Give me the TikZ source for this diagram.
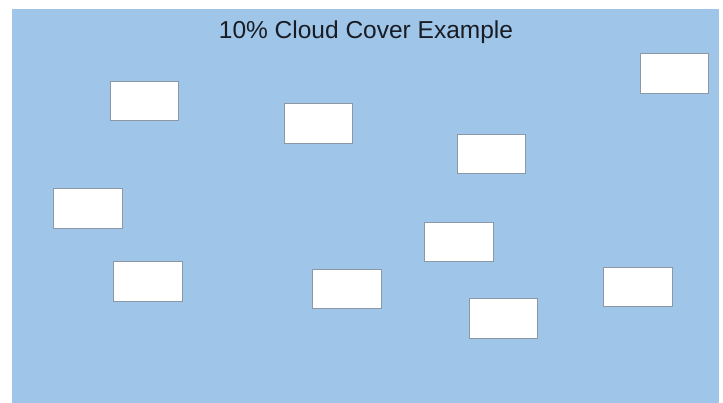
\documentclass[tikz,border=0pt]{standalone}
\usepackage{fontspec}
\setmainfont{Liberation Sans}
\definecolor{skyblue}{HTML}{9FC5E8}
\definecolor{cloudedge}{RGB}{140,152,166}
\definecolor{titleink}{RGB}{25,28,36}
\tikzset{
  cloudbox/.style={draw=cloudedge, line width=1pt, fill=white, inner sep=0pt,
    minimum width=68.5pt, minimum height=39.5pt},
}
\begin{document}
\begin{tikzpicture}[x=1pt,y=-1pt]
			\useasboundingbox (0,0) rectangle (723,403);
			\fill[skyblue] (12,9) rectangle (718.7,403);
			
			\node[text=titleink, font=\fontsize{24.5}{28}\selectfont, anchor=base] (title) at (366,38.5) {10\% Cloud Cover Example};
			
			\node[cloudbox] (c1) at (144.5,101) {};
			\node[cloudbox] (c2) at (318.3,123.7) {};
			\node[cloudbox] (c3) at (674.3,73.5) {};
			\node[cloudbox] (c4) at (491.7,154) {};
			\node[cloudbox] (c5) at (87.8,208.3) {};
			\node[cloudbox] (c6) at (459,242) {};
			\node[cloudbox] (c7) at (148.2,281.7) {};
			\node[cloudbox] (c8) at (347,289) {};
			\node[cloudbox] (c9) at (503.3,318.3) {};
			\node[cloudbox] (c10) at (638,287) {};
		\end{tikzpicture}
\end{document}
